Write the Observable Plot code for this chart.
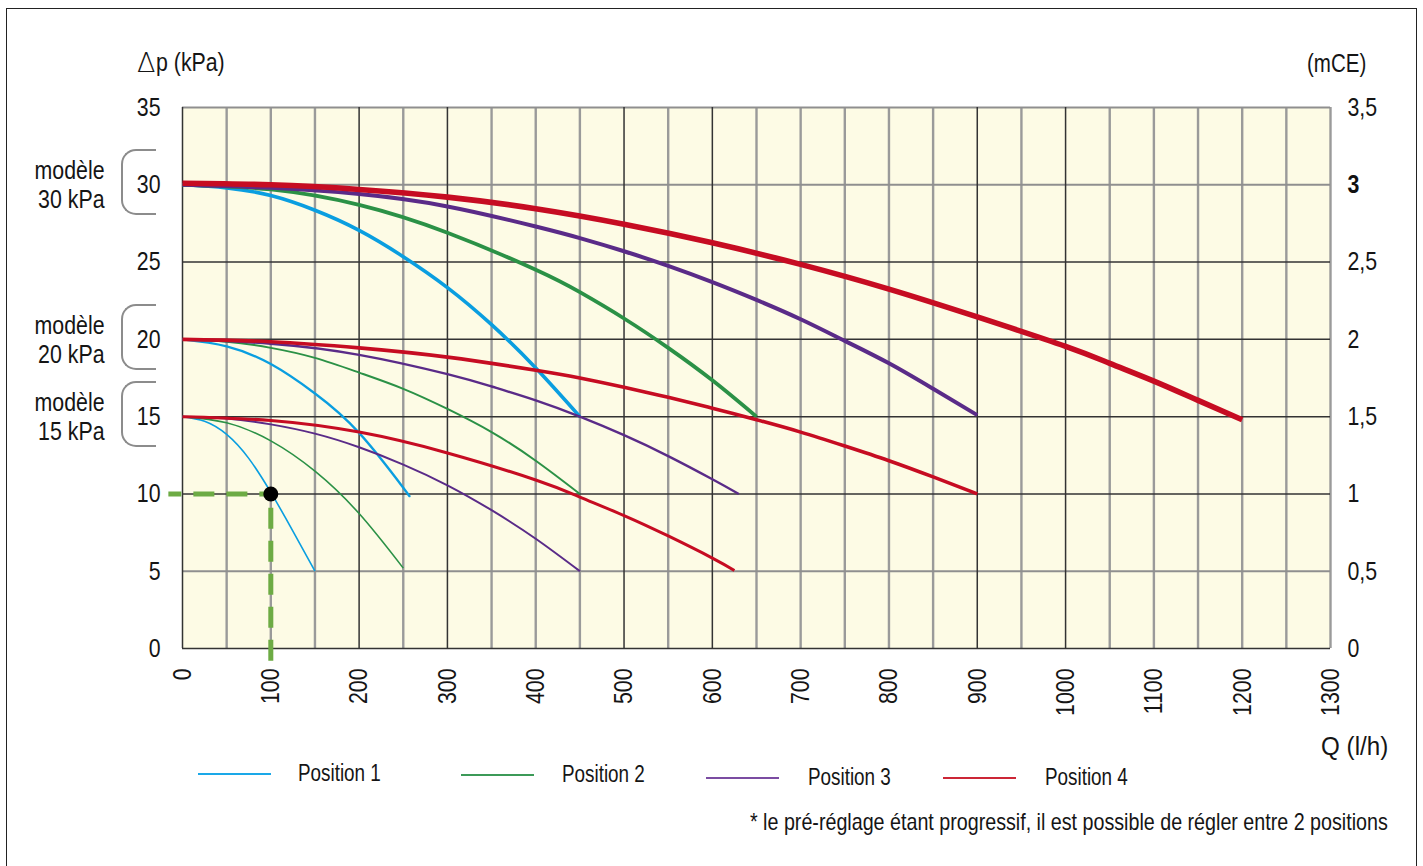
<!DOCTYPE html>
<html><head><meta charset="utf-8">
<script src="https://cdn.jsdelivr.net/npm/d3@7"></script>
<script src="https://cdn.jsdelivr.net/npm/@observablehq/plot@0.6"></script>
<style>
html,body{margin:0;padding:0;}
body{background:#fff;width:1423px;height:866px;overflow:hidden;position:relative;
  font-family:"Liberation Sans",Arial,sans-serif;color:#151515;}
#frame{position:absolute;left:6px;top:8px;width:1411px;height:900px;border:1.5px solid #222;box-sizing:border-box;}
#chart{position:absolute;left:0;top:0;}
.abs{position:absolute;white-space:nowrap;line-height:1;}
.nar{display:inline-block;transform:scaleX(0.82);}
.bracket{position:absolute;border:2.5px solid #8c8c8c;border-right:none;border-radius:15px 0 0 15px;box-sizing:border-box;}
.leg{position:absolute;height:2px;}
</style></head><body>
<div id="frame"></div>
<div id="chart"></div>
<script>
// ---------- data ----------
const qTicks = [0,100,200,300,400,500,600,700,800,900,1000,1100,1200,1300];
const kpaTicks = [0,5,10,15,20,25,30,35];
const mceLabels = ["0","0,5","1","1,5","2","2,5","3","3,5"];
const mceBold = 30; // the "3" label is printed bold
const gridQDark = [0,200,300,500,600,900,1000];
const gridQLight = [50,100,150,250,350,400,450,550,650,700,750,800,850,950,1050,1100,1150,1200,1250,1300];
const gridDpDark = [0,10,15,20,25];
const gridDpLight = [5,30,35];
const models = [30,20,15];
const positionNames = ["Position 1","Position 2","Position 3","Position 4"];
const exampleQ = 100, exampleDp = 10;
const guideH = [[-16,10],[100,10]];
const guideV = [[100,-0.8],[100,10]];

// model 30 kPa curves [Q l/h, Δp kPa]
const m30p1 = [[0,30],[50,29.8],[100,29.3],[150,28.35],[200,27.05],[250,25.35],[300,23.35],[350,20.95],[400,18.15],[450,15]];
const m30p2 = [[0,30],[100,29.7],[200,28.7],[300,26.9],[400,24.5],[450,23.05],[500,21.35],[550,19.45],[600,17.35],[650,15]];
const m30p3 = [[0,30],[100,29.8],[200,29.4],[300,28.6],[400,27.3],[450,26.55],[500,25.7],[550,24.75],[600,23.7],[650,22.55],[700,21.3],[750,19.9],[800,18.45],[850,16.8],[900,15.1]];
const m30p4 = [[0,30.1],[100,30],[200,29.7],[300,29.2],[400,28.45],[500,27.45],[600,26.25],[700,24.85],[800,23.25],[900,21.45],[1000,19.55],[1050,18.45],[1100,17.3],[1150,16.05],[1200,14.8]];
// model 20 kPa
const m20p1 = [[0,20],[50,19.55],[100,18.4],[150,16.5],[200,13.95],[250,10.4],[255,10]];
const m20p2 = [[0,20],[50,19.85],[100,19.45],[150,18.8],[200,17.85],[250,16.8],[300,15.5],[350,14],[400,12.15],[450,10]];
const m20p3 = [[0,20],[100,19.72],[200,19],[300,17.75],[350,16.95],[400,16.05],[450,15],[500,13.8],[550,12.45],[600,10.95],[630,10]];
const m20p4 = [[0,20],[100,19.85],[200,19.45],[300,18.85],[400,18],[450,17.5],[500,16.9],[550,16.25],[600,15.55],[650,14.8],[700,14],[750,13.1],[800,12.15],[850,11.1],[900,10]];
// model 15 kPa
const m15p1 = [[0,15],[25,14.7],[50,13.85],[75,12.3],[100,10.1],[125,7.6],[150,5]];
const m15p2 = [[0,15],[50,14.6],[100,13.43],[150,11.47],[200,8.73],[250,5.2]];
const m15p3 = [[0,15],[50,14.88],[100,14.5],[150,13.9],[200,13.02],[250,11.9],[300,10.56],[350,8.95],[400,7.1],[450,5]];
const m15p4 = [[0,15],[100,14.75],[200,14],[300,12.65],[400,10.9],[450,9.8],[500,8.6],[550,7.28],[600,5.85],[625,5.05]];

// ---------- styling ----------
const colors = ["#0a9ee0","#2b9146","#5a2b88","#c60c22"];
const legendColors = ["#1aa8e8","#3c9a58","#7b4ca2","#cc2636"];
const curves = {30:[m30p1,m30p2,m30p3,m30p4], 20:[m20p1,m20p2,m20p3,m20p4], 15:[m15p1,m15p2,m15p3,m15p4]};
const widths = {30:[3.6,3.8,4,5.6], 20:[2.3,2,2.4,3.6], 15:[1.6,1.6,2,3]};

const W = 1423, H = 720;
const FS = 26;
const NARROW = 0.82;

const marks = [
  Plot.frame({fill:"#fdfbe5", stroke:"none"}),
  Plot.ruleX(gridQLight, {x:d=>d, stroke:"#9a9a9a", strokeWidth:2.4}),
  Plot.ruleY(gridDpLight, {y:d=>d, stroke:"#8f8f8f", strokeWidth:2}),
  Plot.ruleX(gridQDark, {x:d=>d, stroke:"#333", strokeWidth:1.5}),
  Plot.ruleY(gridDpDark, {y:d=>d, stroke:"#333", strokeWidth:1.5}),
];
for (let p = 0; p < 4; p++) {
  for (const m of [15,20,30]) {
    marks.push(Plot.line(curves[m][p], {x:d=>d[0], y:d=>d[1], stroke:colors[p], strokeWidth:widths[m][p], curve:"natural", strokeLinecap:"butt"}));
  }
}
const mceIdx = kpaTicks.map((d,i)=>i);
marks.push(
  Plot.line(guideH, {x:d=>d[0], y:d=>d[1], stroke:"#6dab44", strokeWidth:5, strokeDasharray:"21,12", strokeDashoffset:8, strokeLinecap:"butt"}),
  Plot.line(guideV, {x:d=>d[0], y:d=>d[1], stroke:"#6dab44", strokeWidth:5, strokeDasharray:"21,12", strokeLinecap:"butt"}),
  Plot.dot([[exampleQ, exampleDp]], {x:d=>d[0], y:d=>d[1], r:7.5, fill:"#000", stroke:"none"}),
  // left axis labels
  Plot.text(kpaTicks, {y:d=>d, frameAnchor:"left", dx:-22, textAnchor:"end", text:d=>String(d), fontSize:FS, fill:"#151515"}),
  // right axis labels (mCE)
  Plot.text(mceIdx.filter(i=>kpaTicks[i]!==mceBold), {y:i=>kpaTicks[i], frameAnchor:"right", dx:17, textAnchor:"start", text:i=>mceLabels[i], fontSize:FS, fill:"#151515"}),
  Plot.text(mceIdx.filter(i=>kpaTicks[i]===mceBold), {y:i=>kpaTicks[i], frameAnchor:"right", dx:17, textAnchor:"start", text:i=>mceLabels[i], fontSize:FS, fill:"#111", fontWeight:"bold"}),
  // bottom axis labels rotated
  Plot.text(qTicks, {x:d=>d, frameAnchor:"bottom", dy:20, rotate:-90, textAnchor:"end", lineAnchor:"middle", text:d=>String(d), fontSize:FS, fill:"#151515"}),
  // model labels (two lines)
  Plot.text(models, {y:d=>d, frameAnchor:"left", dx:-78, dy:-14, textAnchor:"end", lineAnchor:"middle", text:d=>"modèle", fontSize:FS, fill:"#151515"}),
  Plot.text(models, {y:d=>d, frameAnchor:"left", dx:-78, dy:15, textAnchor:"end", lineAnchor:"middle", text:d=>`${d} kPa`, fontSize:FS, fill:"#151515"})
);

const plot = Plot.plot({
  width: W, height: H,
  marginLeft: 182, marginRight: W - 1330, marginTop: 107, marginBottom: H - 648,
  x: {domain:[0,1300], axis:null},
  y: {domain:[0,35], axis:null},
  style: {fontFamily:'"Liberation Sans",Arial,sans-serif', background:"transparent", overflow:"visible"},
  marks
});
document.getElementById("chart").appendChild(plot);
// condense the svg text (Helvetica Condensed look)
plot.querySelectorAll("text").forEach(t => {
  const len = t.getComputedTextLength();
  if (len > 0) {
    t.setAttribute("textLength", (len * NARROW).toFixed(2));
    t.setAttribute("lengthAdjust", "spacingAndGlyphs");
  }
});

const ys = plot.scale("y");
const body = document.body;
function addAbs(html, css, origin, sx) {
  const d = document.createElement("div");
  d.className = "abs";
  d.innerHTML = `<span class="nar" style="transform-origin:${origin||"left"} center;transform:scaleX(${sx||NARROW})">${html}</span>`;
  Object.assign(d.style, css);
  body.appendChild(d);
  return d;
}
// brackets tied to y scale
for (const m of models) {
  const b = document.createElement("div");
  b.className = "bracket";
  const c = ys.apply(m) - 2;
  Object.assign(b.style, {left:"121px", top:(c-33)+"px", width:"35px", height:"66px"});
  body.appendChild(b);
}
// axis titles
const dp = document.createElement("div");
dp.className = "abs";
dp.innerHTML = '<span style="font-size:27px;font-family:\'DejaVu Sans\',sans-serif;font-weight:200;vertical-align:-1px">Δ</span><span class="nar" style="transform-origin:left center;font-size:26px;margin-left:1px">p (kPa)</span>';
Object.assign(dp.style, {left:"137px", top:"49px"});
body.appendChild(dp);
addAbs('(mCE)', {left:"1307px", top:"50px", fontSize:FS+"px"}, "left", 0.79);
addAbs('Q (l/h)', {right:"35px", top:"733px", fontSize:FS+"px"}, "right", 0.93);
// legend
const legLines = [[198,774],[461,775],[706,778],[943,778]];
const legText = [298,562,808,1045];
positionNames.forEach((name,i) => {
  const l = document.createElement("div");
  l.className = "leg";
  Object.assign(l.style, {left:legLines[i][0]+"px", top:(legLines[i][1]-1)+"px", width:"73px", background:legendColors[i]});
  body.appendChild(l);
  addAbs(name, {left:legText[i]+"px", top:(legLines[i][1]-12)+"px", fontSize:"23px"});
});
addAbs('* le pré-réglage étant progressif, il est possible de régler entre 2 positions', {right:"35px", top:"810px", fontSize:"24px"}, "right");
</script>
</body></html>
